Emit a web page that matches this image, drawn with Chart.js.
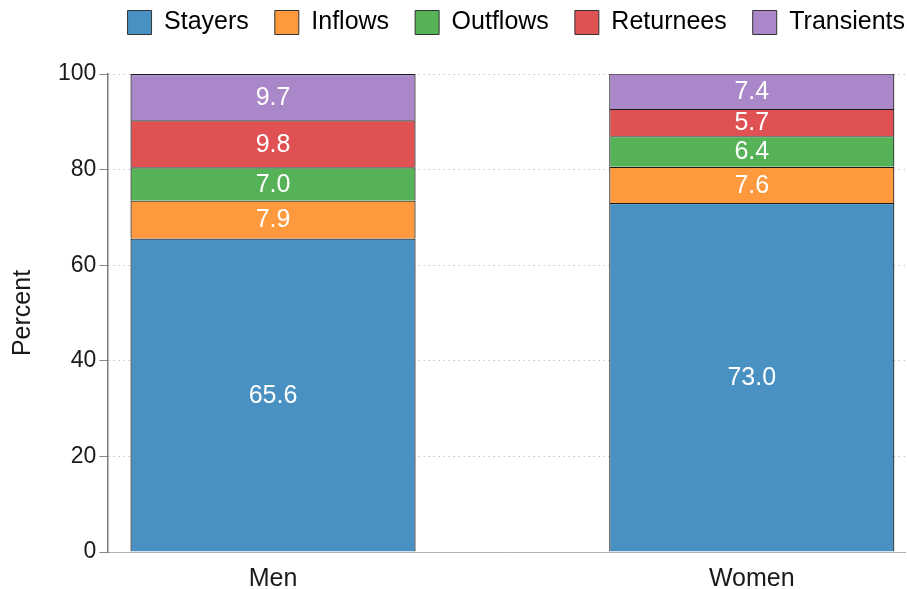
<!DOCTYPE html>
<html>
<head>
<meta charset="utf-8">
<script src="https://cdn.jsdelivr.net/npm/chart.js@4"></script>
<style>
  html, body { margin: 0; padding: 0; background: #fff; }
  #wrap { width: 907px; height: 589px; }
</style>
</head>
<body>
<div id="wrap"><canvas id="chart"></canvas></div>
<script>
// Data
const categories = ['Men', 'Women'];
const stayers    = [65.6, 73.0];
const inflows    = [7.9, 7.6];
const outflows   = [7.0, 6.4];
const returnees  = [9.8, 5.7];
const transients = [9.7, 7.4];
const yTicks = [0, 20, 40, 60, 80, 100];

const seriesNames  = ['Stayers', 'Inflows', 'Outflows', 'Returnees', 'Transients'];
const seriesValues = [stayers, inflows, outflows, returnees, transients];
const seriesColors = ['#4a91c3', '#fe9a3d', '#56b257', '#df5153', '#a987c9'];

const FONT = "'Liberation Sans', Arial, sans-serif";
const LEGEND_GAP = 26;

// labels in the middle of each segment
const segmentLabels = {
    id: 'segmentLabels',
    afterDatasetsDraw(chart) {
        const ctx = chart.ctx;
        ctx.save();
        ctx.fillStyle = '#ffffff';
        ctx.font = '25px ' + FONT;
        ctx.textAlign = 'center';
        ctx.textBaseline = 'middle';
        chart.data.datasets.forEach((ds, i) => {
            const meta = chart.getDatasetMeta(i);
            meta.data.forEach((bar, j) => {
                const p = bar.getCenterPoint();
                ctx.fillText(ds.data[j].y.toFixed(1), p.x, p.y + 1);
            });
        });
        ctx.restore();
    }
};

// leave room under the legend and push it flush right
const legendFit = {
    id: 'legendFit',
    beforeInit(chart) {
        const legend = chart.legend;
        const fit = legend.fit;
        legend.fit = function () {
            fit.call(this);
            this.height += 29;
        };
    },
    afterLayout(chart) {
        chart.legend.left += LEGEND_GAP;
        chart.legend.right += LEGEND_GAP;
    }
};

const datasets = seriesNames.map((name, i) => ({
    label: name,
    data: seriesValues[i].map((v, j) => ({ x: j + 1, y: v })),
    backgroundColor: seriesColors[i],
    borderColor: '#1a1a1a',
    borderWidth: 1.2,
    barPercentage: 0.5956,
    categoryPercentage: 1.0
}));

new Chart(document.getElementById('chart'), {
    type: 'bar',
    data: { datasets },
    plugins: [segmentLabels, legendFit],
    options: {
        responsive: true,
        maintainAspectRatio: false,
        animation: false,
        layout: { padding: { top: -16, right: 2, left: 8, bottom: -18 } },
        plugins: {
            legend: {
                position: 'top',
                align: 'end',
                labels: {
                    font: { family: FONT, size: 25 },
                    color: '#1a1a1a',
                    boxWidth: 24,
                    boxHeight: 24,
                    padding: LEGEND_GAP,
                    generateLabels(chart) {
                        return chart.data.datasets.map((ds, i) => ({
                            text: ds.label,
                            fillStyle: ds.backgroundColor,
                            strokeStyle: '#333',
                            lineWidth: 1,
                            datasetIndex: i
                        }));
                    }
                }
            },
            tooltip: { enabled: false }
        },
        scales: {
            x: {
                type: 'linear',
                stacked: true,
                min: 0.654,
                max: 2.32,
                offset: false,
                afterBuildTicks(scale) {
                    scale.ticks = categories.map((c, i) => ({ value: i + 1 }));
                },
                ticks: {
                    font: { family: FONT, size: 25, lineHeight: 1 },
                    color: '#1a1a1a',
                    padding: 15,
                    callback: (v) => categories[v - 1]
                },
                grid: { display: false, drawTicks: false },
                border: { display: true, color: '#b0b0b0', width: 1 }
            },
            y: {
                stacked: true,
                min: 0,
                max: 100,
                afterBuildTicks(scale) {
                    scale.ticks = yTicks.map(v => ({ value: v }));
                },
                ticks: {
                    font: { family: FONT, size: 23 },
                    color: '#1a1a1a',
                    padding: 3
                },
                title: {
                    display: true,
                    text: 'Percent',
                    font: { family: FONT, size: 25 },
                    color: '#1a1a1a',
                    padding: { top: 0, bottom: 17 }
                },
                grid: {
                    color: '#c4c4c4',
                    tickColor: '#888888',
                    tickLength: 8,
                    tickBorderDash: [0, 0],
                    drawTicks: true
                },
                border: { display: true, color: '#7a7a7a', width: 1.5, dash: [1.5, 3.5] }
            }
        }
    }
});
</script>
</body>
</html>
